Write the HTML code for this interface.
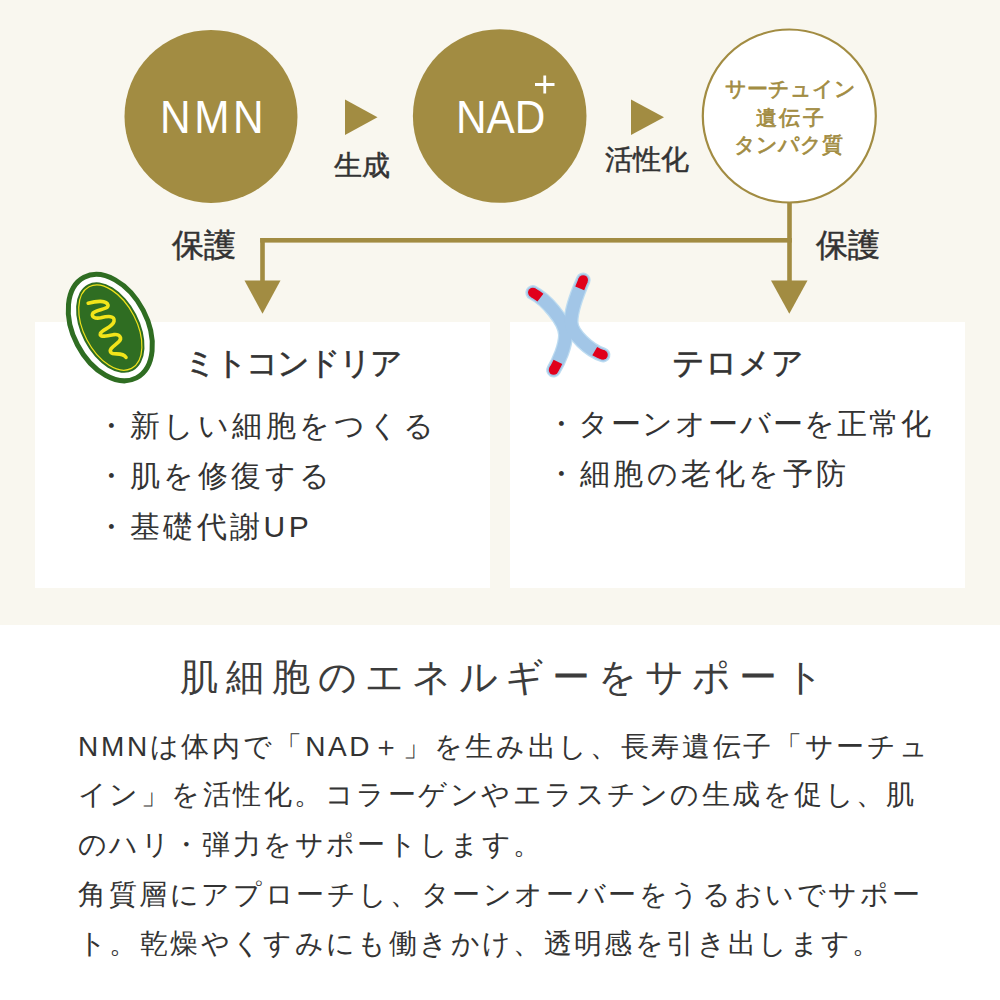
<!DOCTYPE html>
<html lang="ja"><head><meta charset="utf-8">
<style>
html,body{margin:0;padding:0;}
body{width:1000px;height:1000px;position:relative;overflow:hidden;background:#fff;font-family:"Liberation Sans",sans-serif;color:#333;}
.top{position:absolute;left:0;top:0;width:1000px;height:625px;background:#f9f7ef;}
.t{position:absolute;white-space:nowrap;line-height:1;}
.card{position:absolute;top:322px;width:455px;height:266px;background:#fff;}
svg{position:absolute;}
</style></head><body>
<div class="top"></div>
<svg style="left:0;top:0" width="1000" height="625" viewBox="0 0 1000 625">
  <circle cx="211" cy="116.4" r="86.5" fill="#a28c42"/>
  <circle cx="499.7" cy="116" r="86.8" fill="#a28c42"/>
  <circle cx="789.3" cy="116" r="86.5" fill="#fff" stroke="#a28c42" stroke-width="2.2"/>
  <polygon points="345,99.5 377.5,117.25 345,135" fill="#a28c42"/>
  <polygon points="631,99.5 664,117.25 631,135" fill="#a28c42"/>
  <rect x="260.2" y="238" width="531.6" height="4.6" fill="#a28c42"/>
  <rect x="260.2" y="238" width="4.6" height="45" fill="#a28c42"/>
  <rect x="787.2" y="203" width="4.6" height="80" fill="#a28c42"/>
  <polygon points="244.5,280.5 280.5,280.5 262.5,313.7" fill="#a28c42"/>
  <polygon points="771,280.4 807.5,280.4 789.3,313.8" fill="#a28c42"/>
  <path d="M535,84.5 H554.5 M544.75,75.5 V93.5" stroke="#fff" stroke-width="2.8"/>
</svg>
<div class="card" style="left:35px"></div>
<div class="card" style="left:510px"></div>

<svg style="left:0;top:0" width="1000" height="625" viewBox="0 0 1000 625">
  <g transform="translate(110.3 327.6) rotate(-27.5)">
    <ellipse rx="37.1" ry="56.7" fill="#fff" stroke="#2f6d22" stroke-width="5"/>
    <ellipse rx="29.1" ry="48.7" fill="#2f6d22"/>
    <ellipse rx="26.4" ry="46" fill="none" stroke="#f0e21c" stroke-width="1.2"/>
  </g>
  <g transform="translate(60 265) scale(0.12)">
    <path d="M235,318 C300,300 390,290 400,335 C405,370 300,370 275,400 C255,430 290,450 340,440 C400,425 460,420 450,470 C440,520 340,540 335,575 C330,605 400,590 450,580 C500,575 520,610 490,640 C460,670 400,700 425,730 C445,755 520,720 550,770" fill="none" stroke="#f2e41a" stroke-width="30" stroke-linecap="round" stroke-linejoin="round"/>
  </g>
  <defs>
    <path id="armA" d="M532.8,292.6 C545.4,298.9 565.5,321 565.5,335 C565.5,346 559,361 553.6,370"/>
    <path id="armB" d="M583.2,280 C578.4,291 571,310 571,322 C571,334 589.7,350.7 603,354.9"/>
  </defs>
  <g fill="none" stroke-linecap="round">
    <use href="#armA" stroke="#bddcf1" stroke-width="15"/>
    <use href="#armB" stroke="#bddcf1" stroke-width="15"/>
    <use href="#armA" stroke="#a2c6e7" stroke-width="12.5"/>
    <use href="#armB" stroke="#a2c6e7" stroke-width="12.5"/>
  </g>
  <g fill="none" stroke="#e1001c" stroke-width="9.6" stroke-linecap="butt">
    <path d="M532.8,292.6 C545.4,298.9 565.5,321 565.5,335 C565.5,346 559,361 553.6,370" pathLength="100" stroke-dasharray="10 80 10"/>
    <path d="M583.2,280 C578.4,291 571,310 571,322 C571,334 589.7,350.7 603,354.9" pathLength="100" stroke-dasharray="10 80 10"/>
  </g>
  <g fill="#e1001c">
    <circle cx="532.8" cy="292.6" r="4.8"/><circle cx="553.6" cy="370" r="4.8"/>
    <circle cx="583.2" cy="280" r="4.8"/><circle cx="603" cy="354.9" r="4.8"/>
  </g>
</svg>

<div class="t" id="nmn" style="left:160px;top:92.5px;font-size:47px;letter-spacing:4px;color:#fff;transform:scaleX(0.9);transform-origin:0 0">NMN</div>
<div class="t" id="nad" style="left:455.5px;top:92.5px;font-size:47px;letter-spacing:0px;color:#fff;transform:scaleX(0.9);transform-origin:0 0">NAD</div>
<div class="t" id="seisei" style="left:334px;top:152px;font-size:28px;-webkit-text-stroke:0.5px currentColor">生成</div>
<div class="t" id="kasseika" style="left:605px;top:146px;font-size:28px;-webkit-text-stroke:0.5px currentColor">活性化</div>
<div class="t" id="sir1" style="left:725px;top:77.5px;font-size:21px;-webkit-text-stroke:0.7px currentColor;color:#a28c42">サーチュイン</div>
<div class="t" id="sir2" style="left:755.5px;top:106.5px;font-size:21px;letter-spacing:2.75px;-webkit-text-stroke:0.7px currentColor;color:#a28c42">遺伝子</div>
<div class="t" id="sir3" style="left:734px;top:134px;font-size:21px;-webkit-text-stroke:0.7px currentColor;color:#a28c42">タンパク質</div>
<div class="t" id="hogo1" style="left:172px;top:229px;font-size:32px;-webkit-text-stroke:0.5px currentColor">保護</div>
<div class="t" id="hogo2" style="left:816px;top:229px;font-size:32px;-webkit-text-stroke:0.5px currentColor">保護</div>

<div class="t" id="mito" style="left:183.5px;top:346.5px;font-size:32px;-webkit-text-stroke:0.5px currentColor;letter-spacing:-2px">ミトコンドリア</div>
<div class="t" id="l1" style="left:96px;top:411px;font-size:30px;letter-spacing:3.5px">・新しい細胞をつくる</div>
<div class="t" id="l2" style="left:96px;top:461px;font-size:30px;letter-spacing:3.5px">・肌を修復する</div>
<div class="t" id="l3" style="left:96px;top:512px;font-size:30px;letter-spacing:3.5px">・基礎代謝UP</div>

<div class="t" id="telo" style="left:672px;top:347px;font-size:32px;-webkit-text-stroke:0.5px currentColor;letter-spacing:0px">テロメア</div>
<div class="t" id="r1" style="left:546px;top:409px;font-size:30px;letter-spacing:1.8px">・ターンオーバーを正常化</div>
<div class="t" id="r2" style="left:546px;top:459px;font-size:30px;letter-spacing:3.5px">・細胞の老化を予防</div>

<div class="t" id="head" style="left:180px;top:658px;font-size:38px;letter-spacing:7.92px;color:#3c3c3c">肌細胞のエネルギーをサポート</div>
<div class="t" id="p1" style="left:78px;top:733px;font-size:28px;letter-spacing:2.67px">NMNは体内で「NAD＋」を生み出し、長寿遺伝子「サーチュ</div>
<div class="t" id="p2" style="left:78px;top:781px;font-size:28px;letter-spacing:2.48px">イン」を活性化。コラーゲンやエラスチンの生成を促し、肌</div>
<div class="t" id="p3" style="left:78px;top:831px;font-size:28px;letter-spacing:2.36px">のハリ・弾力をサポートします。</div>
<div class="t" id="p4" style="left:78px;top:881px;font-size:28px;letter-spacing:2.6px">角質層にアプローチし、ターンオーバーをうるおいでサポー</div>
<div class="t" id="p5" style="left:78px;top:930px;font-size:28px;letter-spacing:2.38px">ト。乾燥やくすみにも働きかけ、透明感を引き出します。</div>
</body></html>
